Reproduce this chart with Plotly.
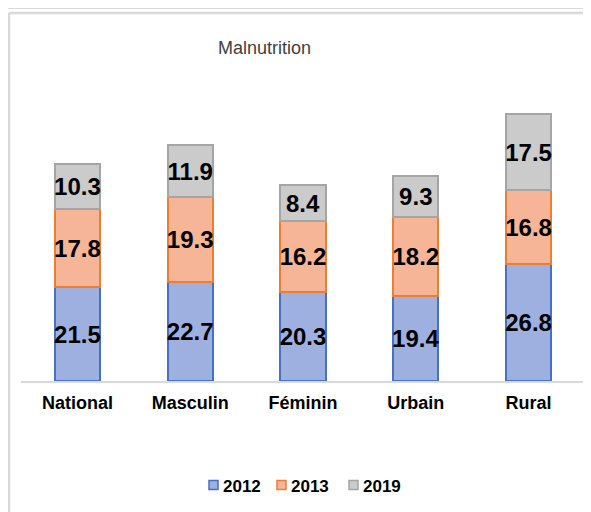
import plotly.graph_objects as go

categories = ["National", "Masculin", "Féminin", "Urbain", "Rural"]
years = ["2012", "2013", "2019"]
v2012 = [21.5, 22.7, 20.3, 19.4, 26.8]
v2013 = [17.8, 19.3, 16.2, 18.2, 16.8]
v2019 = [10.3, 11.9, 8.4, 9.3, 17.5]
series = [v2012, v2013, v2019]
fills = ["#9eb0e0", "#f6b596", "#cbcbcb"]
borders = ["#4472c4", "#ed7d31", "#a5a5a5"]

# page has an 8px body margin, so the figure is placed at (8, 8)
OFF = 8
W, H = 591 - OFF, 512 - OFF
L, R, T, B = 13, 6, 52, 131
PW, PH = W - L - R, H - T - B

def px(x):  # page pixel -> paper x
    return (x - OFF - L) / PW

def py(y):  # page pixel -> paper y
    return (H - B - (y - OFF)) / PH

FONT = "Liberation Sans, Arial, sans-serif"

fig = go.Figure()
for name, vals, fc, bc in zip(years, series, fills, borders):
    fig.add_trace(go.Bar(
        x=categories, y=vals, name=name,
        marker=dict(color=fc, line=dict(color=bc, width=2)),
        text=[f"{v:.1f}" for v in vals],
        textposition="inside", insidetextanchor="middle",
        textangle=0, constraintext="none",
        textfont=dict(family=FONT, size=24, color="black", weight="bold"),
        width=0.4, showlegend=False,
    ))

gray = "#d9d9d9"
shapes = []
for (x0, y0, x1, y1, w) in [(8, 8.3, 591, 8.3, 1.5), (9, 13, 591, 13, 2.5), (9, 13, 9, 512, 2.5)]:
    shapes.append(dict(type="line", xref="paper", yref="paper",
                       x0=px(x0), y0=py(y0), x1=px(x1), y1=py(y1),
                       line=dict(color=gray, width=w)))

# manual legend (square + label), positions in page pixels
leg_sq_x = [209, 277, 349]
leg_tx_x = [221, 289, 361]
leg_y = 485
annotations = [dict(text="Malnutrition", xref="paper", yref="paper",
                    x=px(264), y=py(48), xanchor="center", yanchor="middle",
                    showarrow=False,
                    font=dict(family=FONT, size=18, color="#404040"))]
for name, fc, bc, sx, tx in zip(years, fills, borders, leg_sq_x, leg_tx_x):
    shapes.append(dict(type="rect", xref="paper", yref="paper",
                       x0=px(sx), x1=px(sx + 9), y0=py(leg_y - 4.5), y1=py(leg_y + 4.5),
                       fillcolor=fc, line=dict(color=bc, width=1.5)))
    annotations.append(dict(text=name, xref="paper", yref="paper",
                            x=px(tx), y=py(leg_y + 1), xanchor="left", yanchor="middle",
                            showarrow=False,
                            font=dict(family=FONT, size=17, color="black", weight="bold")))

fig.update_layout(
    width=W, height=H,
    margin=dict(l=L, r=R, t=T, b=B),
    barmode="stack",
    paper_bgcolor="white", plot_bgcolor="white",
    showlegend=False,
    xaxis=dict(showline=True, linecolor=gray, linewidth=2, ticks="",
               tickfont=dict(family=FONT, size=18, color="black", weight="bold"),
               ticklabelstandoff=4,
               showgrid=False, zeroline=False),
    yaxis=dict(range=[0, PH / 4.37], visible=False, showgrid=False, zeroline=False),
    shapes=shapes,
    annotations=annotations,
)

fig.write_html("out.html")
